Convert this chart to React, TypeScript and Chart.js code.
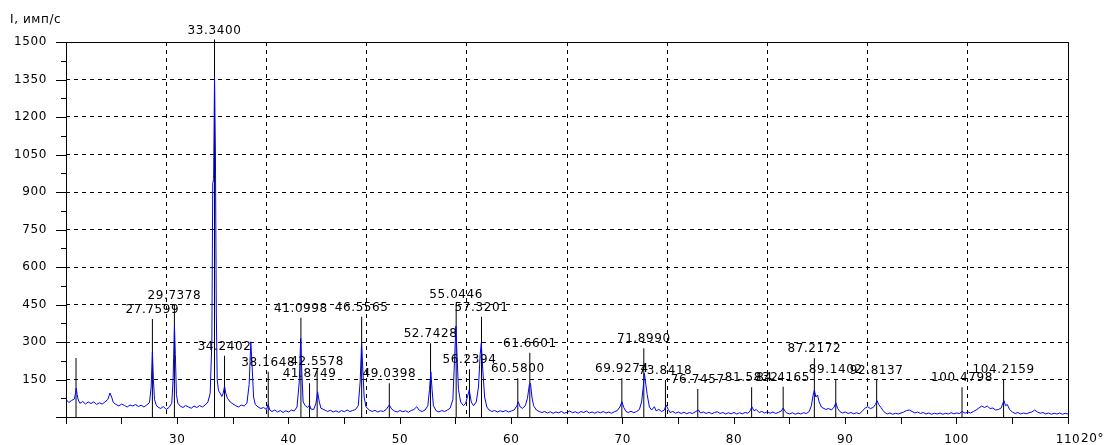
import React, { useEffect, useRef } from 'react';
import { Chart, registerables } from 'chart.js';

Chart.register(...registerables);

// Measured diffraction scan: [2θ, intensity]
const scan: [number, number][] = [
  [20.00, 70], [20.25, 58], [20.50, 66], [20.75, 72], [20.85, 95], [20.92, 115], [21.00, 90], [21.10, 68],
  [21.25, 55], [21.50, 62], [21.75, 52], [22.00, 60], [22.25, 54], [22.50, 61], [22.75, 50], [23.00, 57],
  [23.25, 52], [23.50, 60], [23.75, 70], [23.95, 96], [24.10, 80], [24.25, 58], [24.50, 50], [24.75, 44],
  [25.00, 52], [25.25, 46], [25.50, 40], [25.75, 48], [26.00, 44], [26.25, 50], [26.50, 42], [26.75, 47],
  [27.00, 40], [27.25, 48], [27.50, 58], [27.65, 120], [27.76, 261], [27.85, 150], [27.95, 70], [28.10, 48],
  [28.25, 40], [28.50, 34], [28.75, 42], [29.00, 30], [29.25, 38], [29.50, 55], [29.62, 150], [29.74, 364],
  [29.82, 250], [29.92, 90], [30.05, 55], [30.25, 44], [30.50, 38], [30.75, 46], [31.00, 40], [31.25, 35],
  [31.50, 44], [31.75, 38], [32.00, 46], [32.25, 40], [32.50, 48], [32.75, 60], [32.95, 95], [33.10, 300],
  [33.18, 935], [33.26, 950], [33.34, 1360], [33.42, 1060], [33.50, 420], [33.58, 150], [33.70, 105], [33.85, 95],
  [34.00, 82], [34.12, 95], [34.24, 124], [34.35, 95], [34.50, 75], [34.75, 60], [35.00, 52], [35.25, 45],
  [35.50, 40], [35.75, 48], [36.00, 44], [36.25, 55], [36.45, 130], [36.60, 301], [36.72, 200], [36.85, 80],
  [37.00, 50], [37.25, 40], [37.50, 34], [37.75, 38], [38.00, 30], [38.16, 50], [38.30, 28], [38.50, 22],
  [38.75, 28], [39.00, 20], [39.25, 26], [39.50, 18], [39.75, 25], [40.00, 20], [40.25, 28], [40.50, 24],
  [40.75, 40], [40.95, 140], [41.08, 315], [41.18, 180], [41.30, 60], [41.50, 45], [41.70, 38], [41.87, 48],
  [42.00, 32], [42.25, 30], [42.45, 55], [42.60, 101], [42.75, 60], [42.90, 35], [43.25, 28], [43.50, 22],
  [43.75, 27], [44.00, 20], [44.25, 25], [44.50, 19], [44.75, 26], [45.00, 21], [45.25, 28], [45.50, 22],
  [45.75, 26], [46.00, 30], [46.25, 45], [46.42, 140], [46.55, 295], [46.65, 200], [46.78, 80], [46.95, 40],
  [47.25, 28], [47.50, 22], [47.75, 27], [48.00, 20], [48.25, 25], [48.50, 22], [48.75, 30], [49.04, 48],
  [49.25, 32], [49.50, 24], [49.75, 20], [50.00, 26], [50.25, 21], [50.50, 25], [50.75, 19], [51.00, 26],
  [51.25, 30], [51.50, 41], [51.75, 26], [52.00, 22], [52.25, 28], [52.50, 45], [52.65, 110], [52.77, 181],
  [52.88, 110], [53.00, 45], [53.25, 25], [53.50, 20], [53.75, 26], [54.00, 22], [54.25, 28], [54.50, 35],
  [54.75, 70], [54.92, 250], [55.02, 364], [55.12, 250], [55.25, 110], [55.45, 60], [55.70, 45], [55.90, 55],
  [56.05, 80], [56.22, 108], [56.40, 60], [56.60, 45], [56.85, 60], [57.05, 120], [57.20, 250], [57.30, 295],
  [57.42, 200], [57.60, 80], [57.80, 40], [58.00, 28], [58.25, 22], [58.50, 26], [58.75, 20], [59.00, 25],
  [59.25, 21], [59.50, 26], [59.75, 20], [60.00, 24], [60.25, 28], [60.50, 45], [60.62, 61], [60.80, 40],
  [61.00, 35], [61.25, 45], [61.45, 75], [61.62, 130], [61.72, 135], [61.85, 80], [62.00, 45], [62.25, 28],
  [62.50, 22], [62.75, 18], [63.00, 22], [63.25, 16], [63.50, 21], [63.75, 15], [64.00, 20], [64.25, 17],
  [64.50, 22], [64.75, 15], [65.00, 19], [65.25, 24], [65.50, 17], [65.75, 21], [66.00, 15], [66.25, 22],
  [66.50, 18], [66.75, 24], [67.00, 16], [67.25, 20], [67.50, 15], [67.75, 21], [68.00, 17], [68.25, 22],
  [68.50, 16], [68.75, 20], [69.00, 15], [69.25, 21], [69.50, 25], [69.75, 40], [69.93, 61], [70.10, 38],
  [70.30, 22], [70.50, 18], [70.75, 23], [71.00, 17], [71.25, 22], [71.50, 30], [71.70, 60], [71.85, 120],
  [71.95, 175], [72.05, 140], [72.20, 90], [72.40, 40], [72.60, 28], [72.85, 41], [73.00, 25], [73.25, 30],
  [73.50, 22], [73.75, 28], [73.90, 48], [74.10, 30], [74.25, 18], [74.50, 22], [74.75, 15], [75.00, 20],
  [75.25, 14], [75.50, 19], [75.75, 13], [76.00, 18], [76.25, 14], [76.50, 20], [76.80, 28], [77.00, 16],
  [77.25, 20], [77.50, 14], [77.75, 19], [78.00, 13], [78.25, 18], [78.50, 21], [78.75, 14], [79.00, 18],
  [79.25, 12], [79.50, 17], [79.75, 13], [80.00, 18], [80.25, 12], [80.50, 17], [80.75, 13], [81.00, 18],
  [81.25, 15], [81.45, 25], [81.60, 41], [81.80, 25], [82.00, 30], [82.25, 18], [82.50, 22], [82.75, 16],
  [83.00, 21], [83.25, 15], [83.50, 20], [83.75, 14], [84.00, 19], [84.25, 24], [84.42, 36], [84.60, 22],
  [84.75, 16], [85.00, 12], [85.25, 17], [85.50, 11], [85.75, 16], [86.00, 12], [86.25, 17], [86.50, 14],
  [86.75, 22], [86.95, 45], [87.10, 85], [87.22, 108], [87.35, 80], [87.50, 88], [87.65, 60], [87.85, 40],
  [88.00, 36], [88.25, 30], [88.50, 34], [88.75, 28], [89.00, 40], [89.15, 57], [89.30, 35], [89.50, 22],
  [89.75, 16], [90.00, 20], [90.25, 14], [90.50, 18], [90.75, 13], [91.00, 17], [91.25, 13], [91.50, 22],
  [91.75, 35], [92.00, 41], [92.25, 34], [92.50, 38], [92.70, 50], [92.85, 65], [93.00, 50], [93.20, 38],
  [93.40, 25], [93.60, 16], [93.80, 12], [94.00, 16], [94.25, 11], [94.50, 15], [94.75, 12], [95.00, 16],
  [95.25, 20], [95.50, 26], [95.75, 28], [96.00, 22], [96.25, 16], [96.50, 20], [96.75, 14], [97.00, 18],
  [97.25, 12], [97.50, 16], [97.75, 11], [98.00, 15], [98.25, 12], [98.50, 16], [98.75, 11], [99.00, 15],
  [99.25, 12], [99.50, 17], [99.75, 13], [100.00, 16], [100.25, 14], [100.50, 22], [100.75, 15], [101.00, 20],
  [101.25, 16], [101.50, 22], [101.75, 28], [102.00, 36], [102.25, 44], [102.50, 38], [102.75, 44], [103.00, 34],
  [103.25, 36], [103.50, 28], [103.75, 30], [104.00, 36], [104.15, 55], [104.25, 65], [104.40, 45], [104.55, 50],
  [104.75, 30], [105.00, 20], [105.25, 14], [105.50, 18], [105.75, 12], [106.00, 16], [106.25, 13], [106.50, 17],
  [106.75, 20], [107.00, 28], [107.25, 20], [107.50, 15], [107.75, 18], [108.00, 12], [108.25, 16], [108.50, 11],
  [108.75, 15], [109.00, 12], [109.25, 16], [109.50, 11], [109.75, 15], [110.00, 12],
];

// Identified peaks: position, label, marker height
const peakAngles = [
  20.90, 27.7599, 29.7378, 33.34, 34.2402, 38.1648, 41.0998, 41.8749, 42.5578, 46.5565,
  49.0398, 52.7428, 55.0446, 56.2394, 57.3201, 60.58, 61.6601, 69.9274, 71.899, 73.8418,
  76.7457, 81.5832, 84.4165, 87.2172, 89.1402, 92.8137, 100.4798, 104.2159,
];
const peakLabels = [
  '', '27.7599', '29.7378', '33.3400', '34.2402', '38.1648', '41.0998', '41.8749', '42.5578', '46.5565',
  '49.0398', '52.7428', '55.0446', '56.2394', '57.3201', '60.5800', '61.6601', '69.9274', '71.8990', '73.8418',
  '76.7457', '81.5832', '84.4165', '87.2172', '89.1402', '92.8137', '100.4798', '104.2159',
];
const peakHeights = [
  236, 392, 448, 1510, 245, 181, 397, 135, 185, 401,
  135, 295, 451, 191, 401, 155, 257, 155, 275, 148,
  112, 119, 121, 235, 151, 148, 119, 151,
];

const xTickValues = [20, 25, 30, 35, 40, 45, 50, 55, 60, 65, 70, 75, 80, 85, 90, 95, 100, 105, 110];
const xGridValues = [29, 38, 47, 56, 65, 74, 83, 92, 101];
const yTickValues = [0, 75, 150, 225, 300, 375, 450, 525, 600, 675, 750, 825, 900, 975, 1050, 1125, 1200, 1275, 1350, 1425, 1500];
const yAxisTitle = 'I, имп/с';
const xAxisTitle = '20°';

const FONT = '"DejaVu Sans"';
const SPACING = '0.6px';

export default function App() {
  const ref = useRef<HTMLCanvasElement | null>(null);

  useEffect(() => {
    document.body.style.margin = '0';
    const canvas = ref.current;
    if (!canvas) return;

    Chart.defaults.font.family = FONT;
    Chart.defaults.font.size = 12;
    Chart.defaults.color = '#000';

    const decor = {
      id: 'decor',
      beforeDraw(chart: any) {
        (chart.ctx as any).letterSpacing = SPACING;
      },
      afterDatasetsDraw(chart: any) {
        const { ctx, chartArea: a, scales } = chart;
        const xs = scales.x;
        const ys = scales.y;
        ctx.save();
        (ctx as any).letterSpacing = SPACING;
        ctx.setLineDash([]);
        ctx.strokeStyle = '#000';
        ctx.lineWidth = 1;
        const L = Math.round(a.left) + 0.5;
        const T = Math.round(a.top) + 0.5;
        ctx.strokeRect(L, T, Math.round(a.right) - Math.round(a.left), Math.round(a.bottom) - Math.round(a.top));
        yTickValues.forEach((v) => {
          const y = Math.round(ys.getPixelForValue(v)) + 0.5;
          const len = v % 150 === 0 ? 10 : 5;
          ctx.beginPath();
          ctx.moveTo(Math.round(a.left) - len, y);
          ctx.lineTo(Math.round(a.left), y);
          ctx.stroke();
        });
        ctx.fillStyle = '#000';
        ctx.font = `12px ${FONT}`;
        ctx.textAlign = 'center';
        ctx.textBaseline = 'alphabetic';
        peakAngles.forEach((p, i) => {
          if (!peakLabels[i]) return;
          ctx.fillText(peakLabels[i], xs.getPixelForValue(p), ys.getPixelForValue(peakHeights[i]) - 6);
        });
        ctx.textAlign = 'left';
        ctx.textBaseline = 'middle';
        ctx.fillText(yAxisTitle, 10, 20);
        ctx.fillText(xAxisTitle, xs.getPixelForValue(110) + 13, a.bottom + 22);
        ctx.restore();
      },
    };

    const peakData: { x: number; y: number | null }[] = [];
    peakAngles.forEach((p, i) => {
      peakData.push({ x: p, y: 0 }, { x: p, y: peakHeights[i] }, { x: p, y: null });
    });

    const chart = new Chart(canvas, {
      type: 'line',
      data: {
        datasets: [
          {
            label: 'scan',
            data: scan.map(([x, y]) => ({ x, y })),
            borderColor: '#0000ff',
            borderWidth: 1,
            pointRadius: 0,
            tension: 0,
            order: 0,
          },
          {
            label: 'peaks',
            data: peakData,
            borderColor: '#000',
            borderWidth: 1,
            pointRadius: 0,
            spanGaps: false,
            clip: false as any,
            order: 1,
          },
        ],
      },
      options: {
        responsive: false,
        animation: false,
        devicePixelRatio: 1,
        events: [],
        layout: { padding: { left: 0, top: 42, right: 36, bottom: 0 } },
        plugins: { legend: { display: false }, tooltip: { enabled: false } },
        scales: {
          x: {
            type: 'linear',
            position: 'bottom',
            min: 20,
            max: 110,
            afterBuildTicks: (s: any) => { s.ticks = xTickValues.map((v) => ({ value: v })); },
            afterFit: (s: any) => { s.height = 28; },
            ticks: {
              autoSkip: false,
              maxRotation: 0,
              padding: 9,
              callback: (v: any) => (Number(v) % 10 === 0 && Number(v) !== 20 ? String(v) : ''),
            },
            grid: { display: true, drawOnChartArea: false, drawTicks: true, tickLength: 7, color: '#000' },
            border: { display: false },
          },
          x2: {
            type: 'linear',
            position: 'top',
            min: 20,
            max: 110,
            afterBuildTicks: (s: any) => { s.ticks = xGridValues.map((v) => ({ value: v })); },
            afterFit: (s: any) => { s.height = 0; },
            ticks: { display: false },
            grid: { display: true, drawOnChartArea: true, drawTicks: false, color: '#000' },
            border: { display: false, dash: [4, 4] },
          },
          y: {
            type: 'linear',
            position: 'left',
            min: 0,
            max: 1500,
            afterBuildTicks: (s: any) => { s.ticks = yTickValues.map((v) => ({ value: v })); },
            afterFit: (s: any) => { s.width = 66; },
            ticks: {
              autoSkip: false,
              padding: 19,
              callback: (v: any) => (Number(v) % 150 === 0 && Number(v) !== 0 ? String(v) : ''),
            },
            grid: {
              display: true,
              drawTicks: false,
              color: (c: any) => {
                const v = c.tick ? c.tick.value : 0;
                return v % 150 === 0 && v !== 0 && v !== 1500 ? '#000' : 'rgba(0,0,0,0)';
              },
            },
            border: { display: false, dash: [4, 4] },
          },
        },
      },
      plugins: [decor],
    });

    return () => chart.destroy();
  }, []);

  return (
    <div style={{ width: 1104, height: 445 }}>
      <canvas ref={ref} width={1104} height={445} style={{ display: 'block', width: 1104, height: 445 }} />
    </div>
  );
}
